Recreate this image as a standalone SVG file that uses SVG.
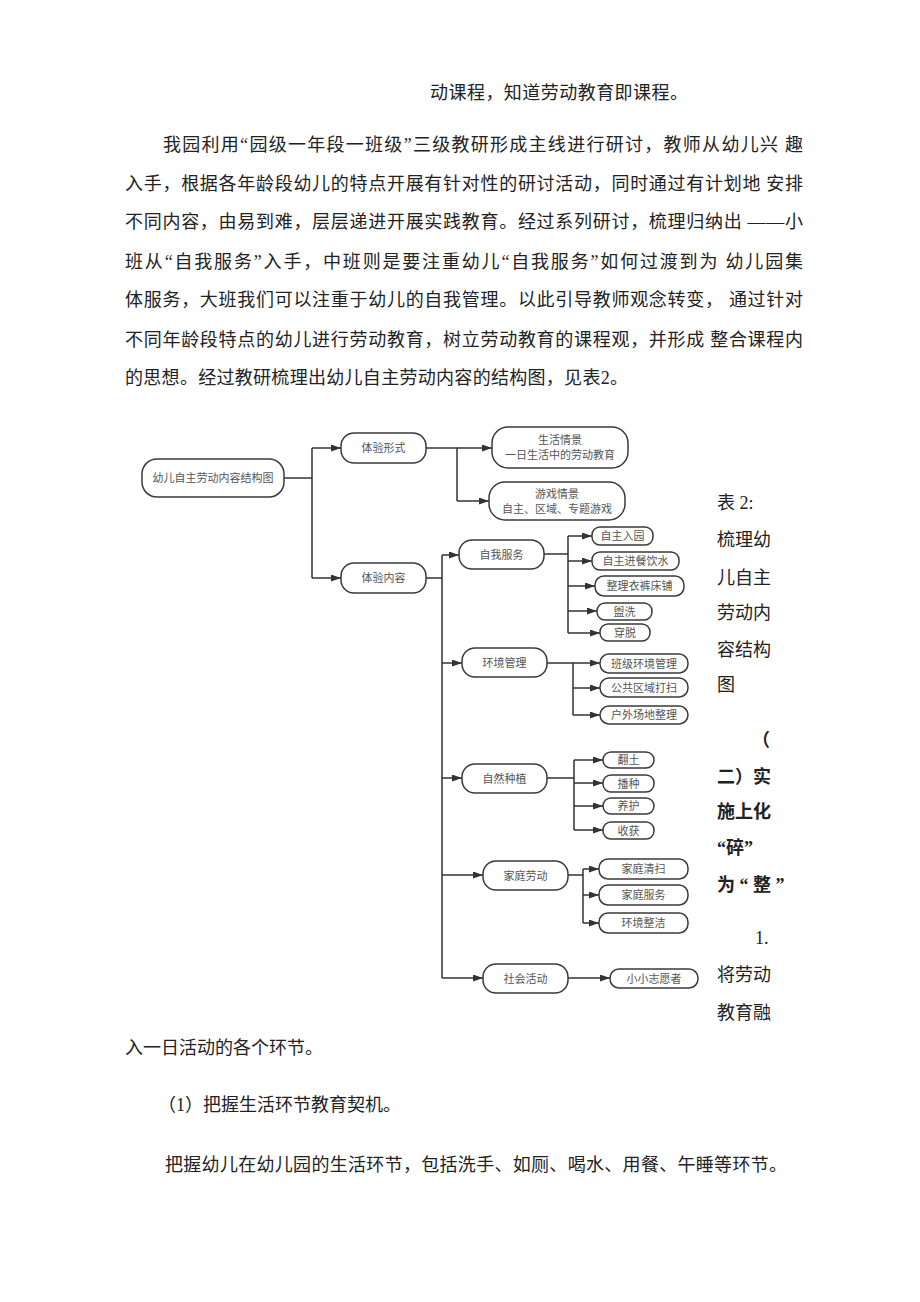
<svg xmlns="http://www.w3.org/2000/svg" width="920" height="1302" viewBox="0 0 920 1302">
<style>
.body{font-family:"Liberation Serif","Noto Sans CJK SC",serif;font-size:18px;fill:#222}
.bold{font-weight:bold}
.box{fill:#fff;stroke:#3a3a3a;stroke-width:1.5}
.lbl{font-family:"Noto Sans CJK SC","Liberation Sans",sans-serif;font-size:11px;fill:#555;text-anchor:middle}
.ln{fill:none;stroke:#333;stroke-width:1.5}
.ar{fill:none;stroke:#333;stroke-width:1.5;marker-end:url(#ah)}
</style>
<defs>
<marker id="ah" markerUnits="userSpaceOnUse" markerWidth="11" markerHeight="8" refX="10" refY="3.5" orient="auto">
<path d="M0,0 L10,3.5 L0,7 z" fill="#333"/>
</marker>
</defs>
<rect width="920" height="1302" fill="#fff"/>

<g id="text-top">
<text class="body" x="430" y="99" textLength="258" lengthAdjust="spacing">动课程，知道劳动教育即课程。</text>
<text class="body" x="163" y="151" textLength="640" lengthAdjust="spacing">我园利用“园级一年段一班级”三级教研形成主线进行研讨，教师从幼儿兴 趣</text>
<text class="body" x="125" y="190" textLength="678" lengthAdjust="spacing">入手，根据各年龄段幼儿的特点开展有针对性的研讨活动，同时通过有计划地 安排</text>
<text class="body" x="125" y="228" textLength="678" lengthAdjust="spacing">不同内容，由易到难，层层递进开展实践教育。经过系列研讨，梳理归纳出 ——小</text>
<text class="body" x="125" y="268" textLength="678" lengthAdjust="spacing">班从“自我服务”入手，中班则是要注重幼儿“自我服务”如何过渡到为 幼儿园集</text>
<text class="body" x="125" y="306" textLength="678" lengthAdjust="spacing">体服务，大班我们可以注重于幼儿的自我管理。以此引导教师观念转变， 通过针对</text>
<text class="body" x="125" y="346" textLength="678" lengthAdjust="spacing">不同年龄段特点的幼儿进行劳动教育，树立劳动教育的课程观，并形成 整合课程内</text>
<text class="body" x="125" y="384" textLength="503" lengthAdjust="spacing">的思想。经过教研梳理出幼儿自主劳动内容的结构图，见表2。</text>
</g>

<g id="text-right">
<text class="body" x="717" y="509">表 2:</text>
<text class="body" x="717" y="546">梳理幼</text>
<text class="body" x="717" y="584">儿自主</text>
<text class="body" x="717" y="619">劳动内</text>
<text class="body" x="717" y="656">容结构</text>
<text class="body" x="717" y="691">图</text>
<text class="body bold" x="752" y="746">（</text>
<text class="body bold" x="717" y="783">二）实</text>
<text class="body bold" x="717" y="818">施上化</text>
<text class="body bold" x="717" y="854">“碎”</text>
<text class="body bold" x="717" y="891">为 “ 整 ”</text>
<text class="body" x="755" y="944">1.</text>
<text class="body" x="717" y="981">将劳动</text>
<text class="body" x="717" y="1019">教育融</text>
</g>

<g id="text-bottom">
<text class="body" x="125" y="1054">入一日活动的各个环节。</text>
<text class="body" x="158" y="1111">（1）把握生活环节教育契机。</text>
<text class="body" x="165" y="1171" textLength="622" lengthAdjust="spacing">把握幼儿在幼儿园的生活环节，包括洗手、如厕、喝水、用餐、午睡等环节。</text>
</g>

<g id="connectors">
<path class="ln" d="M284,478 H312 M312,448 V578"/>
<path class="ar" d="M312,448 H341"/>
<path class="ar" d="M312,578 H341"/>
<path class="ln" d="M426,448 H457 V501"/>
<path class="ar" d="M457,448 H492"/>
<path class="ar" d="M457,501 H489"/>
<path class="ln" d="M426,578 H442 M442,555 V978"/>
<path class="ar" d="M442,555 H459"/>
<path class="ar" d="M442,663 H462"/>
<path class="ar" d="M442,778 H462"/>
<path class="ar" d="M442,875 H483"/>
<path class="ar" d="M442,978 H483"/>
<path class="ln" d="M544,554 H568 M568,536 V633"/>
<path class="ar" d="M568,536 H592"/>
<path class="ar" d="M568,561 H592"/>
<path class="ar" d="M568,586 H595"/>
<path class="ar" d="M568,611 H597"/>
<path class="ar" d="M568,633 H600"/>
<path class="ln" d="M547,663 H573 V715"/>
<path class="ar" d="M573,663 H600"/>
<path class="ar" d="M573,688 H600"/>
<path class="ar" d="M573,715 H600"/>
<path class="ln" d="M547,778 H574 M574,760 V830"/>
<path class="ar" d="M574,760 H603"/>
<path class="ar" d="M574,783 H603"/>
<path class="ar" d="M574,806 H603"/>
<path class="ar" d="M574,830 H603"/>
<path class="ln" d="M568,875 H583 M583,869 V923"/>
<path class="ar" d="M583,869 H599"/>
<path class="ar" d="M583,895 H599"/>
<path class="ar" d="M583,923 H599"/>
<path class="ar" d="M568,978 H610"/>
</g>

<g id="n-root"><rect class="box" x="142" y="459" width="142" height="38" rx="15"/><text class="lbl" x="213" y="482">幼儿自主劳动内容结构图</text></g>
<g id="n-form"><rect class="box" x="341" y="433" width="85" height="30" rx="13"/><text class="lbl" x="383.5" y="452">体验形式</text></g>
<g id="n-content"><rect class="box" x="341" y="563" width="85" height="30" rx="13"/><text class="lbl" x="383.5" y="582">体验内容</text></g>
<g id="n-life"><rect class="box" x="492" y="427" width="136" height="41" rx="16"/><text class="lbl" x="560" y="444">生活情景</text><text class="lbl" x="560" y="459">一日生活中的劳动教育</text></g>
<g id="n-game"><rect class="box" x="489" y="482" width="136" height="38" rx="16"/><text class="lbl" x="557" y="498">游戏情景</text><text class="lbl" x="557" y="513">自主、区域、专题游戏</text></g>

<g id="n-self"><rect class="box" x="459" y="540" width="85" height="29" rx="13"/><text class="lbl" x="501.5" y="558.5">自我服务</text></g>
<g id="n-s1"><rect class="box" x="592" y="527" width="61" height="18" rx="8"/><text class="lbl" x="622.5" y="540">自主入园</text></g>
<g id="n-s2"><rect class="box" x="592" y="552" width="87" height="18" rx="8"/><text class="lbl" x="635.5" y="565">自主进餐饮水</text></g>
<g id="n-s3"><rect class="box" x="595" y="576" width="89" height="20" rx="9"/><text class="lbl" x="639.5" y="590">整理衣裤床铺</text></g>
<g id="n-s4"><rect class="box" x="597" y="603" width="55" height="17" rx="8"/><text class="lbl" x="624.5" y="615.5">盥洗</text></g>
<g id="n-s5"><rect class="box" x="600" y="624" width="50" height="17" rx="8"/><text class="lbl" x="625" y="636.5">穿脱</text></g>

<g id="n-env"><rect class="box" x="462" y="648" width="85" height="29" rx="13"/><text class="lbl" x="504.5" y="666.5">环境管理</text></g>
<g id="n-e1"><rect class="box" x="600" y="654" width="88" height="19" rx="9"/><text class="lbl" x="644" y="667.5">班级环境管理</text></g>
<g id="n-e2"><rect class="box" x="600" y="678" width="88" height="19" rx="9"/><text class="lbl" x="644" y="691.5">公共区域打扫</text></g>
<g id="n-e3"><rect class="box" x="600" y="706" width="88" height="18" rx="9"/><text class="lbl" x="644" y="719">户外场地整理</text></g>

<g id="n-plant"><rect class="box" x="462" y="764" width="85" height="29" rx="13"/><text class="lbl" x="504.5" y="782.5">自然种植</text></g>
<g id="n-p1"><rect class="box" x="603" y="752" width="51" height="16" rx="8"/><text class="lbl" x="628.5" y="764">翻土</text></g>
<g id="n-p2"><rect class="box" x="603" y="775" width="51" height="17" rx="8"/><text class="lbl" x="628.5" y="787.5">播种</text></g>
<g id="n-p3"><rect class="box" x="603" y="798" width="51" height="16" rx="8"/><text class="lbl" x="628.5" y="810">养护</text></g>
<g id="n-p4"><rect class="box" x="603" y="822" width="51" height="17" rx="8"/><text class="lbl" x="628.5" y="834.5">收获</text></g>

<g id="n-home"><rect class="box" x="483" y="861" width="85" height="29" rx="13"/><text class="lbl" x="525.5" y="879.5">家庭劳动</text></g>
<g id="n-h1"><rect class="box" x="599" y="859" width="89" height="20" rx="9"/><text class="lbl" x="643.5" y="873">家庭清扫</text></g>
<g id="n-h2"><rect class="box" x="599" y="885" width="89" height="20" rx="9"/><text class="lbl" x="643.5" y="899">家庭服务</text></g>
<g id="n-h3"><rect class="box" x="599" y="913" width="89" height="20" rx="9"/><text class="lbl" x="643.5" y="927">环境整洁</text></g>

<g id="n-social"><rect class="box" x="483" y="964" width="85" height="29" rx="13"/><text class="lbl" x="525.5" y="982.5">社会活动</text></g>
<g id="n-v1"><rect class="box" x="610" y="969" width="88" height="19" rx="9"/><text class="lbl" x="654" y="982.5">小小志愿者</text></g>
</svg>
